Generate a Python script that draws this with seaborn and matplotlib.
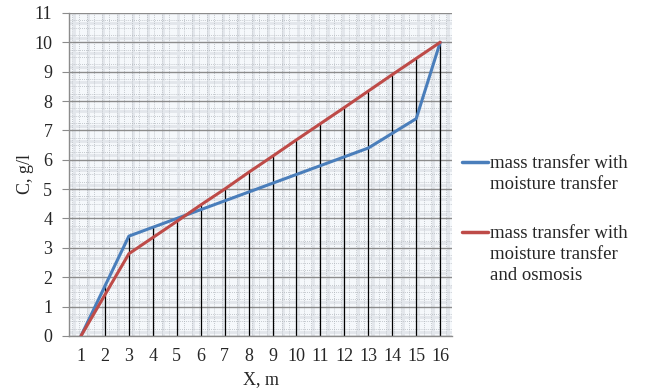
import numpy as np
import pandas as pd
import matplotlib
matplotlib.use("Agg")
import matplotlib.pyplot as plt
import seaborn as sns
from matplotlib.lines import Line2D
from matplotlib.ticker import MultipleLocator

x_vals = [1, 2, 3, 4, 5, 6, 7, 8, 9, 10, 11, 12, 13, 14, 15, 16]
blue_vals = [0, 1.7, 3.4, 3.7, 4.0, 4.3, 4.6, 4.9, 5.2, 5.5, 5.8, 6.1, 6.4, 6.9, 7.4, 10.0]
red_vals = [0, 1.4, 2.8, 3.35, 3.9, 4.46, 5.0, 5.57, 6.12, 6.68, 7.23, 7.78, 8.34, 8.9, 9.45, 10.0]
series_names = ["mass transfer with\nmoisture transfer",
                "mass transfer with\nmoisture transfer\nand osmosis"]
colors = ["#4a7ebb", "#be4b48"]

df = pd.DataFrame({
    "X": x_vals * 2,
    "C": blue_vals + red_vals,
    "series": [series_names[0]] * len(x_vals) + [series_names[1]] * len(x_vals),
})

sns.set_style("white")
plt.rcParams['font.family'] = ['Liberation Serif', 'DejaVu Serif']

fig = plt.figure(figsize=(6.45, 3.92), dpi=100)
ax = fig.add_axes([0.107, 0.143, 0.594, 0.824])
ax.set_facecolor("#f5f8fb")

# background pattern (decorative)
for xv in np.arange(0.5 + 0.1875, 16.5, 0.625):
    ax.axvline(xv, color="#e2e6eb", linewidth=2.0, zorder=0.5)
for yv in np.arange(0.15, 11, 0.5):
    ax.axhline(yv, color="#e2e6eb", linewidth=2.0, zorder=0.5)
ax.xaxis.set_minor_locator(MultipleLocator(0.3125))
ax.yaxis.set_minor_locator(MultipleLocator(0.25))
ax.grid(which="minor", axis="both", color="#b3b8be", linestyle=(0, (1, 1.5)), linewidth=0.6)
ax.grid(which="major", axis="y", color="#8c8c8c", linestyle="-", linewidth=1.0)
ax.grid(which="major", axis="x", visible=False)
ax.set_axisbelow(True)

# drop lines
tops = np.maximum(np.array(blue_vals), np.array(red_vals))
ax.vlines(x_vals, 0, tops, color="black", linewidth=0.9, zorder=2)

sns.lineplot(data=df, x="X", y="C", hue="series", palette=colors, linewidth=2.2,
             ax=ax, legend=False, zorder=3)

ax.set_xlim(0.5, 16.5)
ax.set_ylim(0, 11)
ax.set_xticks(x_vals)
ax.set_yticks(range(0, 12))
ax.tick_params(axis="x", which="both", length=0, labelsize=13, pad=9)
ax.tick_params(axis="y", which="major", length=5, color="#8c8c8c", labelsize=13, pad=7, left=True)
ax.tick_params(axis="y", which="minor", length=0)
for s in ["top", "right"]:
    ax.spines[s].set_visible(False)
for s in ["left", "bottom"]:
    ax.spines[s].set_color("#8c8c8c")
    ax.spines[s].set_linewidth(1.0)

ax.set_xlabel("X, m", fontsize=13, labelpad=4)
ax.set_ylabel("C, g/l", fontsize=13, labelpad=0)

# legend: handle aligned with first line of each label
W, H = 645.0, 392.0
legend_rows = [(162, colors[0], series_names[0]), (232, colors[1], series_names[1])]
for ypix, col, lab in legend_rows:
    yf = 1 - ypix / H
    fig.add_artist(Line2D([462 / W, 488 / W], [yf, yf], color=col, linewidth=2.5,
                          transform=fig.transFigure))
    fig.text(490 / W, yf + 7 / H, lab, ha="left", va="top", fontsize=13.5,
             linespacing=1.3)

fig.savefig("out.png", dpi=100)
